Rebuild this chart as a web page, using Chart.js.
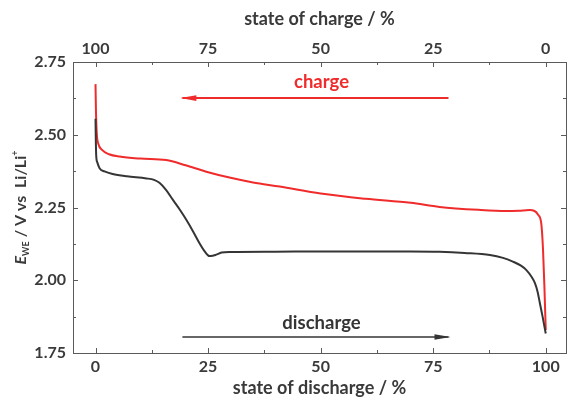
<!DOCTYPE html>
<html>
<head>
<meta charset="utf-8">
<script src="https://cdn.jsdelivr.net/npm/chart.js@4.4.1/dist/chart.umd.min.js"></script>
<style>
  html, body { margin: 0; padding: 0; background: #fff; }
  #wrap { width: 567px; height: 402px; }
</style>
</head>
<body>
<div id="wrap"><canvas id="chart" width="567" height="402"></canvas></div>
<script>
// ── Data ──────────────────────────────────────────────────
const dischargeX = [0, 0.05, 0.15, 0.4, 0.9, 2, 3.8, 7, 11.3, 13, 14.2, 15.7, 17.2, 18.7, 20.2, 21.7, 23.1, 24.3, 25.3, 26, 26.8, 28, 30, 40, 50, 60, 70, 76.4, 82, 87.6, 90.5, 92.7, 94.5, 95.7, 96.8, 97.6, 98.2, 98.7, 99.3, 100];
const dischargeV = [2.555, 2.50, 2.43, 2.405, 2.385, 2.374, 2.365, 2.357, 2.350, 2.345, 2.335, 2.31, 2.276, 2.243, 2.207, 2.167, 2.127, 2.098, 2.083, 2.084, 2.088, 2.095, 2.097, 2.098, 2.099, 2.099, 2.099, 2.098, 2.094, 2.087, 2.077, 2.064, 2.050, 2.035, 2.013, 1.99, 1.960, 1.921, 1.875, 1.817];

const chargeX = [0, 0.1, 0.3, 0.6, 1.5, 3, 5.3, 10, 15.7, 20, 24.6, 30, 35, 40.9, 50, 60, 70, 76.4, 85, 91.3, 94, 96.4, 97.5, 98.3, 99.0, 99.4, 99.7, 100];
const chargeV = [2.674, 2.58, 2.50, 2.47, 2.447, 2.433, 2.425, 2.418, 2.413, 2.395, 2.373, 2.352, 2.336, 2.322, 2.298, 2.280, 2.266, 2.252, 2.242, 2.238, 2.239, 2.241, 2.238, 2.225, 2.196, 2.104, 1.98, 1.829];

const xTicks = [0, 25, 50, 75, 100];          // state of discharge / state of charge
const xMinorTicks = [12.5, 37.5, 62.5, 87.5];
const yTicks = [1.75, 2.00, 2.25, 2.50, 2.75];
const yMinorTicks = [1.875, 2.125, 2.375, 2.625];

// annotation arrows, in data units (x = state of discharge, y = volts)
const chargeArrow = { from: [78.4, 2.626], to: [19.3, 2.626], label: 'charge', labelAt: [50.2, 2.68] };
const dischargeArrow = { from: [19.3, 1.805], to: [78.4, 1.805], label: 'discharge', labelAt: [50.2, 1.853] };

const RED = '#ef2b2b';
const DARK = '#353535';
const TEXT = '#3a3a3a';
const AXIS = '#5a5a5a';
const FONT = 'Lato, "Open Sans", sans-serif';

// ── Plugin: inward ticks, y title, arrows ─────────────────
const decorPlugin = {
  id: 'decor',
  afterDraw(chart) {
    const ctx = chart.ctx;
    const a = chart.chartArea;
    const x = chart.scales.x, y = chart.scales.y;

    ctx.save();
    ctx.strokeStyle = AXIS;
    ctx.lineWidth = 1;
    ctx.beginPath();
    function xt(v, len) {
      const px = Math.round(x.getPixelForValue(v)) + 0.5;
      ctx.moveTo(px, a.bottom); ctx.lineTo(px, a.bottom - len);
      ctx.moveTo(px, a.top); ctx.lineTo(px, a.top + len);
    }
    function yt(v, len) {
      const py = Math.round(y.getPixelForValue(v)) + 0.5;
      ctx.moveTo(a.left, py); ctx.lineTo(a.left + len, py);
      ctx.moveTo(a.right, py); ctx.lineTo(a.right - len, py);
    }
    xTicks.forEach(v => xt(v, 5));
    xMinorTicks.forEach(v => xt(v, 3));
    yTicks.forEach(v => yt(v, 5));
    yMinorTicks.forEach(v => yt(v, 3));
    ctx.stroke();

    // arrows + labels
    [[chargeArrow, RED, 2], [dischargeArrow, DARK, 1.6]].forEach(([ar, col, lw]) => {
      const x0 = x.getPixelForValue(ar.from[0]), y0 = y.getPixelForValue(ar.from[1]);
      const x1 = x.getPixelForValue(ar.to[0]), y1 = y.getPixelForValue(ar.to[1]);
      ctx.strokeStyle = col;
      ctx.fillStyle = col;
      ctx.lineWidth = lw;
      ctx.beginPath();
      ctx.moveTo(x0, y0); ctx.lineTo(x1, y1);
      ctx.stroke();
      const dir = Math.sign(x1 - x0);
      ctx.beginPath();
      ctx.moveTo(x1 + dir * 2, y1);
      ctx.lineTo(x1 - dir * 14, y1 - 2.8);
      ctx.lineTo(x1 - dir * 14, y1 + 2.8);
      ctx.closePath();
      ctx.fill();

      ctx.font = 'bold 18.5px ' + FONT;
      ctx.textAlign = 'center';
      ctx.textBaseline = 'middle';
      ctx.fillText(ar.label, x.getPixelForValue(ar.labelAt[0]), y.getPixelForValue(ar.labelAt[1]));
    });

    // y axis title: E_WE / V vs  Li/Li+
    ctx.fillStyle = TEXT;
    ctx.translate(20, (a.top + a.bottom) / 2);
    ctx.rotate(-Math.PI / 2);
    ctx.textBaseline = 'alphabetic';
    ctx.textAlign = 'left';
    const parts = [
      { t: 'E', f: 'italic bold 16px ' + FONT, dy: 0 },
      { t: 'WE', f: 'bold 9px ' + FONT, dy: 3 },
      { t: ' / V vs  Li/Li', f: 'bold 16px ' + FONT, dy: 0 },
      { t: '+', f: 'bold 9px ' + FONT, dy: -8 }
    ];
    let total = 0;
    parts.forEach(p => { ctx.font = p.f; total += ctx.measureText(p.t).width; });
    let cx = -total / 2;
    parts.forEach(p => {
      ctx.font = p.f;
      ctx.fillText(p.t, cx, 6 + p.dy);
      cx += ctx.measureText(p.t).width;
    });
    ctx.restore();
  }
};

const tickFont = { family: FONT, size: 16, weight: 'bold' };
const titleFont = { family: FONT, size: 18, weight: 'bold' };
const noGrid = { display: false, drawTicks: false };
const border = { display: true, color: AXIS, width: 1 };

new Chart(document.getElementById('chart'), {
  type: 'line',
  data: {
    datasets: [
      {
        label: 'discharge',
        data: dischargeX.map((v, i) => ({ x: v, y: dischargeV[i] })),
        borderColor: DARK,
        borderWidth: 2,
        pointRadius: 0,
        cubicInterpolationMode: 'monotone'
      },
      {
        label: 'charge',
        data: chargeX.map((v, i) => ({ x: v, y: chargeV[i] })),
        borderColor: RED,
        borderWidth: 2,
        pointRadius: 0,
        cubicInterpolationMode: 'monotone'
      }
    ]
  },
  options: {
    responsive: false,
    animation: false,
    layout: { padding: 0 },
    plugins: { legend: { display: false }, tooltip: { enabled: false } },
    scales: {
      x: {
        type: 'linear', position: 'bottom', min: -5, max: 104.5,
        grid: noGrid, border,
        afterBuildTicks: s => { s.ticks = xTicks.map(v => ({ value: v })); },
        afterFit: s => { s.height = 49; },
        ticks: { font: tickFont, color: TEXT, padding: 4 },
        title: { display: true, text: 'state of discharge / %', font: titleFont, color: TEXT, padding: { top: 0, bottom: 3 } }
      },
      x2: {
        type: 'linear', position: 'top', min: -4.5, max: 105, reverse: true,
        grid: noGrid, border,
        afterBuildTicks: s => { s.ticks = xTicks.map(v => ({ value: v })); },
        afterFit: s => { s.height = 62; },
        ticks: { font: tickFont, color: TEXT, padding: 4 },
        title: { display: true, text: 'state of charge / %', font: titleFont, color: TEXT, padding: { top: 8, bottom: 0 } }
      },
      y: {
        type: 'linear', position: 'left', min: 1.75, max: 2.75,
        grid: noGrid, border,
        afterBuildTicks: s => { s.ticks = yTicks.map(v => ({ value: v })); },
        afterFit: s => { s.width = 73; },
        ticks: { font: tickFont, color: TEXT, padding: 7, callback: v => v.toFixed(2) }
      },
      y2: {
        type: 'linear', position: 'right', min: 1.75, max: 2.75,
        grid: noGrid, border,
        afterFit: s => { s.width = 1; },
        ticks: { display: false }
      }
    }
  },
  plugins: [decorPlugin]
});
</script>
</body>
</html>
